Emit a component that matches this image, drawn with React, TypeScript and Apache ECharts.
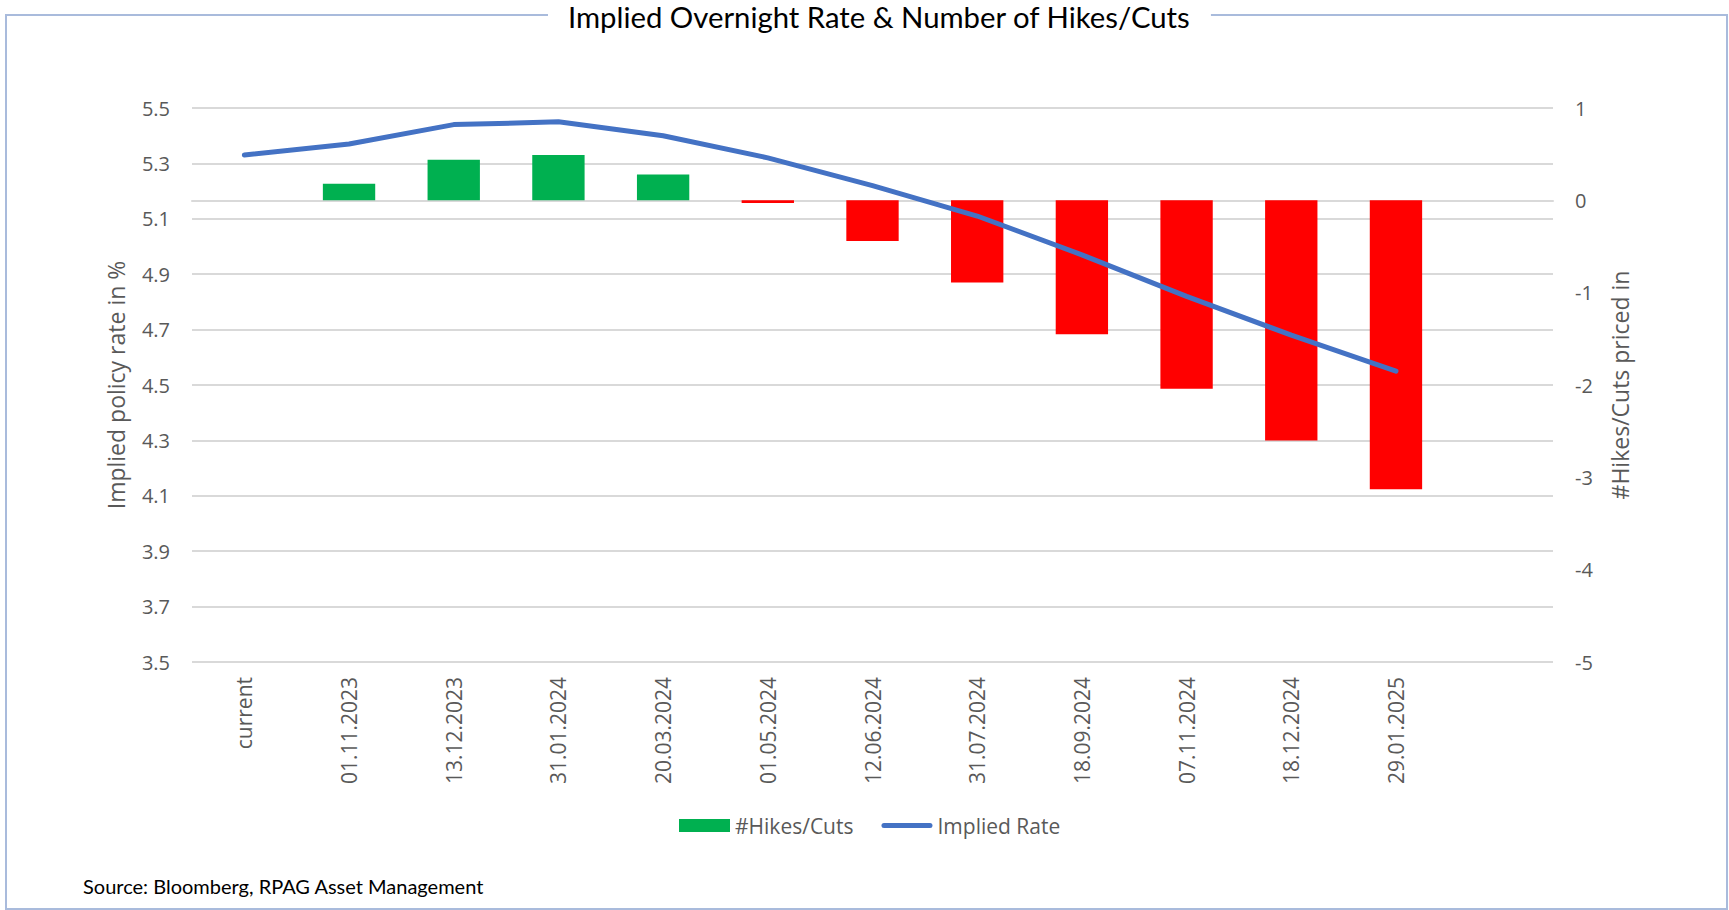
import React, { useEffect, useRef } from "react";
import * as echarts from "echarts";

const categories = [
  "current",
  "01.11.2023",
  "13.12.2023",
  "31.01.2024",
  "20.03.2024",
  "01.05.2024",
  "12.06.2024",
  "31.07.2024",
  "18.09.2024",
  "07.11.2024",
  "18.12.2024",
  "29.01.2025",
  "",
];

const hikesCuts: (number | null)[] = [
  null, 0.18, 0.44, 0.49, 0.28, -0.03, -0.44, -0.89, -1.45, -2.04, -2.6, -3.13, null,
];

const impliedRate: (number | null)[] = [
  5.33, 5.37, 5.44, 5.45, 5.4, 5.32, 5.22, 5.11, 4.97, 4.82, 4.68, 4.55, null,
];

const leftTicks = { min: 3.5, max: 5.5, interval: 0.2 };
const rightTicks = { min: -5, max: 1, interval: 1 };

const TITLE = "Implied Overnight Rate & Number of Hikes/Cuts";
const SOURCE = "Source: Bloomberg, RPAG Asset Management";

const GREEN = "#00B050";
const RED = "#FF0000";
const BLUE = "#4472C4";
const GREY_TEXT = "#595959";
const GRID = "#d9d9d9";
const BORDER = "#a9bbdc";
const UI_FONT = "'Open Sans', 'Noto Sans', sans-serif";
const NARROW_FONT = "Lato, 'Liberation Sans', sans-serif";

const LINE_ICON =
  "path://M0,0 M51,13 M2.5,4 L48.5,4 A2.5,2.5 0 0 1 48.5,9 L2.5,9 A2.5,2.5 0 0 1 2.5,4 Z";

export default function App() {
  const ref = useRef<HTMLDivElement>(null);

  useEffect(() => {
    if (!ref.current) return;
    const chart = echarts.init(ref.current, undefined, { renderer: "svg" });

    const barData = hikesCuts.map((v) =>
      v == null ? null : { value: v, itemStyle: { color: v >= 0 ? GREEN : RED } }
    );

    chart.setOption({
      animation: false,
      backgroundColor: "#fff",
      title: {
        text: TITLE,
        left: 548,
        top: -2,
        padding: [0, 20],
        backgroundColor: "#fff",
        z: 10,
        textStyle: {
          fontFamily: NARROW_FONT,
          fontSize: 29.3,
          fontWeight: "normal",
          color: "#000",
          lineHeight: 36,
        },
      },
      graphic: [
        {
          type: "polyline",
          z: 0,
          silent: true,
          shape: {
            points: [
              [560, 15],
              [6, 15],
              [6, 909],
              [1727, 909],
              [1727, 15],
              [1200, 15],
            ],
          },
          style: { stroke: BORDER, lineWidth: 2, fill: "none" },
        },
        {
          type: "text",
          left: 83,
          top: 876,
          silent: true,
          style: {
            text: SOURCE,
            fontFamily: NARROW_FONT,
            fontSize: 20,
            fill: "#000",
          },
        },
      ],
      legend: {
        left: 674,
        top: 810,
        itemWidth: 51,
        itemHeight: 13,
        itemGap: 28,
        textStyle: { fontFamily: UI_FONT, fontSize: 21, color: GREY_TEXT },
        data: [
          { name: "#Hikes/Cuts", icon: "rect", itemStyle: { color: GREEN } },
          { name: "Implied Rate", icon: LINE_ICON, itemStyle: { color: BLUE, borderWidth: 0 } },
        ],
      },
      grid: { left: 192, right: 176, top: 108, bottom: 248 },
      xAxis: {
        type: "category",
        data: categories,
        boundaryGap: true,
        axisLine: { show: true, lineStyle: { color: GRID, width: 2 } },
        axisTick: { show: false },
        axisLabel: {
          rotate: 90,
          margin: 15,
          interval: 0,
          fontFamily: UI_FONT,
          fontSize: 21,
          color: GREY_TEXT,
        },
      },
      yAxis: [
        {
          type: "value",
          min: leftTicks.min,
          max: leftTicks.max,
          interval: leftTicks.interval,
          name: "Implied policy rate in %",
          nameLocation: "middle",
          nameGap: 65,
          nameTextStyle: { fontFamily: UI_FONT, fontSize: 23, color: GREY_TEXT },
          axisLine: { show: false },
          axisTick: { show: false },
          axisLabel: {
            margin: 22,
            fontFamily: UI_FONT,
            fontSize: 20,
            color: GREY_TEXT,
            formatter: (v: number) => v.toFixed(1),
          },
          splitLine: { show: true, lineStyle: { color: GRID, width: 2 } },
        },
        {
          type: "value",
          position: "right",
          min: rightTicks.min,
          max: rightTicks.max,
          interval: rightTicks.interval,
          name: "#Hikes/Cuts priced in",
          nameLocation: "middle",
          nameGap: 55,
          nameRotate: 90,
          nameTextStyle: { fontFamily: UI_FONT, fontSize: 23, color: GREY_TEXT },
          axisLine: { show: false },
          axisTick: { show: false },
          axisLabel: {
            margin: 22,
            fontFamily: UI_FONT,
            fontSize: 20,
            color: GREY_TEXT,
          },
          splitLine: { show: false },
        },
      ],
      series: [
        {
          name: "#Hikes/Cuts",
          type: "bar",
          yAxisIndex: 1,
          barWidth: "50%",
          itemStyle: { color: GREEN },
          data: barData,
          z: 2,
        },
        {
          name: "Implied Rate",
          type: "line",
          yAxisIndex: 0,
          symbol: "none",
          showSymbol: false,
          itemStyle: { color: BLUE },
          lineStyle: { color: BLUE, width: 5, cap: "round", join: "round" },
          data: impliedRate,
          z: 3,
        },
      ],
    });

    return () => chart.dispose();
  }, []);

  return (
    <div
      ref={ref}
      style={{ position: "absolute", left: 0, top: 0, width: 1729, height: 910 }}
    />
  );
}
